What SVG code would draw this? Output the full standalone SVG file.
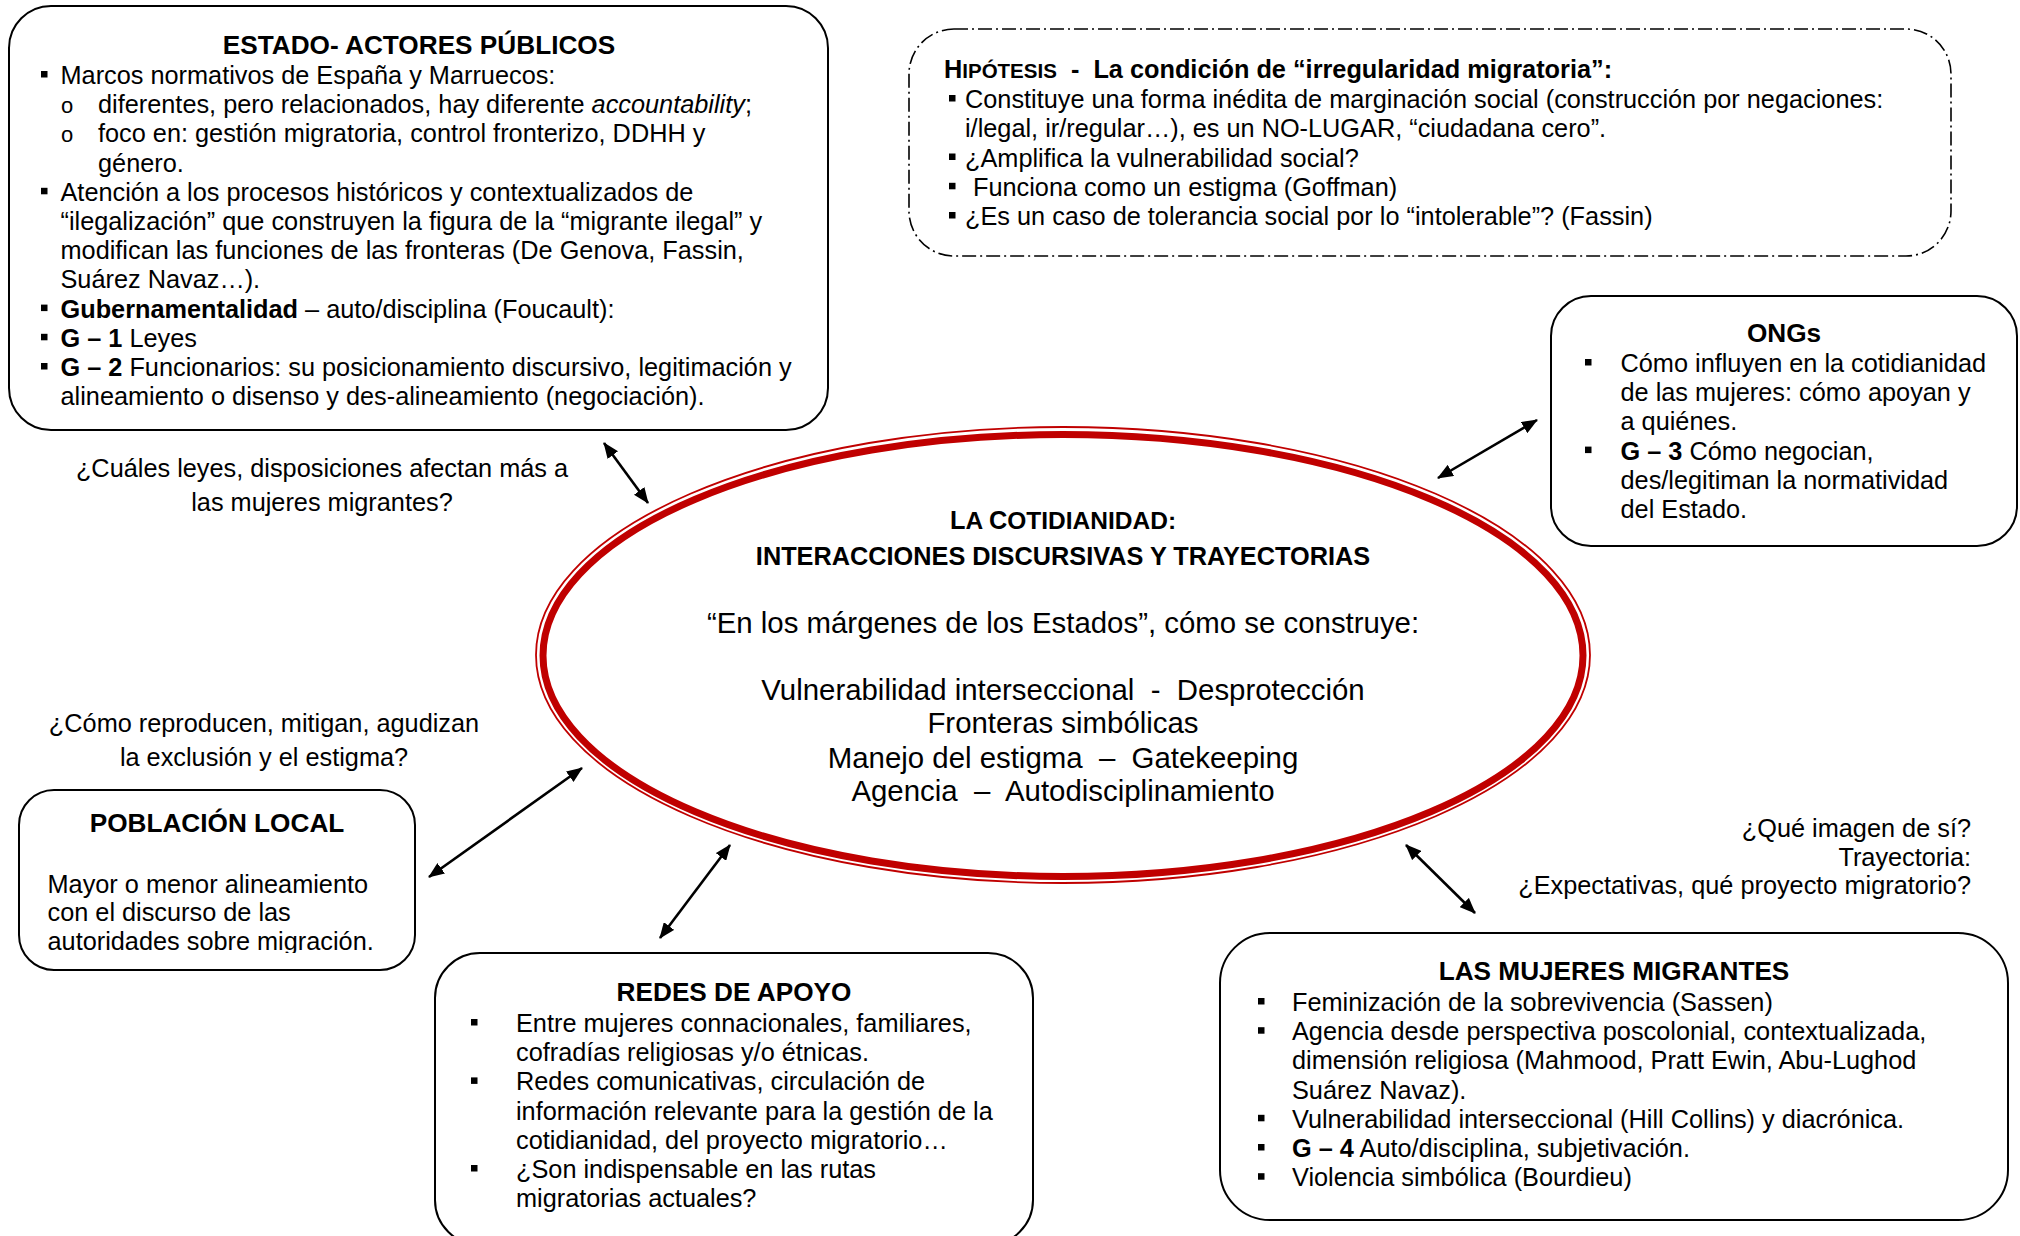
<svg xmlns="http://www.w3.org/2000/svg" xmlns:xlink="http://www.w3.org/1999/xlink" width="2020" height="1236" viewBox="0 0 2020 1236">
<style>
.t{font-family:"Liberation Sans",Arial,sans-serif;font-size:25.3px;fill:#000}
.h{font-weight:bold;font-size:26.2px}
.b{font-weight:bold}
.e{font-size:29.4px}
.box{fill:#fff;stroke:#000;stroke-width:2}
.hyp{fill:#fff;stroke:#000;stroke-width:1.6;stroke-dasharray:14 4 2 4}
.con{stroke:#000;stroke-width:2.6;fill:none;marker-start:url(#ah);marker-end:url(#ah)}
.sub{font-size:22px}
</style>
<defs>
<marker id="ah" viewBox="0 0 16 13" refX="15" refY="6.5" markerWidth="16" markerHeight="13" markerUnits="userSpaceOnUse" orient="auto-start-reverse"><path d="M0,0 L16,6.5 L0,13 z" fill="#000"/></marker>
<rect id="sq" width="6.5" height="6.5" fill="#000"/>
<clipPath id="pclip"><rect x="19" y="840" width="396" height="113"/></clipPath>
</defs>
<rect width="2020" height="1236" fill="#fff"/>

<g id="estado">
<rect class="box" x="9" y="6" width="819" height="424" rx="42"/>
<text class="t h" x="419" y="54" text-anchor="middle">ESTADO- ACTORES PÚBLICOS</text>
<use href="#sq" x="41" y="71"/>
<text class="t" x="60.5" y="84">Marcos normativos de España y Marruecos:</text>
<text class="t sub" x="61" y="113.2">o</text>
<text class="t" x="98" y="113.2">diferentes, pero relacionados, hay diferente <tspan font-style="italic">accountability</tspan>;</text>
<text class="t sub" x="61" y="142.4">o</text>
<text class="t" x="98" y="142.4">foco en: gestión migratoria, control fronterizo, DDHH y</text>
<text class="t" x="98" y="171.6">género.</text>
<use href="#sq" x="41" y="187.8"/>
<text class="t" x="60.5" y="200.8">Atención a los procesos históricos y contextualizados de</text>
<text class="t" x="60.5" y="230">“ilegalización” que construyen la figura de la “migrante ilegal” y</text>
<text class="t" x="60.5" y="259.2">modifican las funciones de las fronteras (De Genova, Fassin,</text>
<text class="t" x="60.5" y="288.4">Suárez Navaz…).</text>
<use href="#sq" x="41" y="304.6"/>
<text class="t" x="60.5" y="317.6"><tspan class="b">Gubernamentalidad</tspan> – auto/disciplina (Foucault):</text>
<use href="#sq" x="41" y="333.8"/>
<text class="t" x="60.5" y="346.8"><tspan class="b">G – 1</tspan> Leyes</text>
<use href="#sq" x="41" y="363"/>
<text class="t" x="60.5" y="376"><tspan class="b">G – 2</tspan> Funcionarios: su posicionamiento discursivo, legitimación y</text>
<text class="t" x="60.5" y="405.2">alineamiento o disenso y des-alineamiento (negociación).</text>
</g>

<g id="hipotesis">
<rect class="hyp" x="909" y="29" width="1042" height="227" rx="45"/>
<text class="t b" x="944" y="78" xml:space="preserve">H<tspan font-size="20.5px">IPÓTESIS</tspan>  -  La condición de “irregularidad migratoria”:</text>
<use href="#sq" x="949" y="95"/>
<text class="t" x="965" y="108">Constituye una forma inédita de marginación social (construcción por negaciones:</text>
<text class="t" x="965" y="137.3">i/legal, ir/regular…), es un NO-LUGAR, “ciudadana cero”.</text>
<use href="#sq" x="949" y="153.5"/>
<text class="t" x="965" y="166.5">¿Amplifica la vulnerabilidad social?</text>
<use href="#sq" x="949" y="182.8"/>
<text class="t" x="973" y="195.8">Funciona como un estigma (Goffman)</text>
<use href="#sq" x="949" y="212"/>
<text class="t" x="965" y="225">¿Es un caso de tolerancia social por lo “intolerable”? (Fassin)</text>
</g>

<g id="ongs">
<rect class="box" x="1551" y="296" width="466" height="250" rx="40"/>
<text class="t h" x="1784" y="342" text-anchor="middle">ONGs</text>
<use href="#sq" x="1585" y="359"/>
<text class="t" x="1620.5" y="372">Cómo influyen en la cotidianidad</text>
<text class="t" x="1620.5" y="401.2">de las mujeres: cómo apoyan y</text>
<text class="t" x="1620.5" y="430.4">a quiénes.</text>
<use href="#sq" x="1585" y="446.6"/>
<text class="t" x="1620.5" y="459.6"><tspan class="b">G – 3</tspan> Cómo negocian,</text>
<text class="t" x="1620.5" y="488.8">des/legitiman la normatividad</text>
<text class="t" x="1620.5" y="518">del Estado.</text>
</g>

<g id="cotidianidad">
<ellipse cx="1063" cy="655" rx="527" ry="228" fill="#fff" stroke="#C00000" stroke-width="1.8"/>
<ellipse cx="1063" cy="655.5" rx="520" ry="221" fill="none" stroke="#C00000" stroke-width="7"/>
<text class="t b" x="1063" y="529" text-anchor="middle" font-size="30.5px">L<tspan font-size="24.5px">A </tspan>C<tspan font-size="24.5px">OTIDIANIDAD:</tspan></text>
<text class="t b" x="1063" y="565" text-anchor="middle" font-size="23px">INTERACCIONES DISCURSIVAS Y TRAYECTORIAS</text>
<text class="t e" x="1063" y="633" text-anchor="middle">“En los márgenes de los Estados”, cómo se construye:</text>
<text class="t e" x="1063" y="699.5" text-anchor="middle" xml:space="preserve">Vulnerabilidad interseccional  -  Desprotección</text>
<text class="t e" x="1063" y="733" text-anchor="middle">Fronteras simbólicas</text>
<text class="t e" x="1063" y="767.5" text-anchor="middle" xml:space="preserve">Manejo del estigma  –  Gatekeeping</text>
<text class="t e" x="1063" y="800.5" text-anchor="middle" xml:space="preserve">Agencia  –  Autodisciplinamiento</text>
</g>

<g id="poblacion">
<rect class="box" x="19" y="790" width="396" height="180" rx="35"/>
<text class="t h" x="217" y="832" text-anchor="middle">POBLACIÓN LOCAL</text>
<g clip-path="url(#pclip)">
<text class="t" x="47.5" y="893">Mayor o menor alineamiento</text>
<text class="t" x="47.5" y="921">con el discurso de las</text>
<text class="t" x="47.5" y="950">autoridades sobre migración.</text>
</g>
</g>

<g id="redes">
<rect class="box" x="435" y="953" width="598" height="292" rx="45"/>
<text class="t h" x="734" y="1001" text-anchor="middle">REDES DE APOYO</text>
<use href="#sq" x="471" y="1019"/>
<text class="t" x="516" y="1032">Entre mujeres connacionales, familiares,</text>
<text class="t" x="516" y="1061.2">cofradías religiosas y/o étnicas.</text>
<use href="#sq" x="471" y="1077.4"/>
<text class="t" x="516" y="1090.4">Redes comunicativas, circulación de</text>
<text class="t" x="516" y="1119.6">información relevante para la gestión de la</text>
<text class="t" x="516" y="1148.8">cotidianidad, del proyecto migratorio…</text>
<use href="#sq" x="471" y="1165"/>
<text class="t" x="516" y="1178">¿Son indispensable en las rutas</text>
<text class="t" x="516" y="1207.2">migratorias actuales?</text>
</g>

<g id="mujeres">
<rect class="box" x="1220" y="933" width="788" height="287" rx="50"/>
<text class="t h" x="1614" y="980" text-anchor="middle">LAS MUJERES MIGRANTES</text>
<use href="#sq" x="1258" y="998"/>
<text class="t" x="1292" y="1011">Feminización de la sobrevivencia (Sassen)</text>
<use href="#sq" x="1258" y="1027.2"/>
<text class="t" x="1292" y="1040.2">Agencia desde perspectiva poscolonial, contextualizada,</text>
<text class="t" x="1292" y="1069.4">dimensión religiosa (Mahmood, Pratt Ewin, Abu-Lughod</text>
<text class="t" x="1292" y="1098.6">Suárez Navaz).</text>
<use href="#sq" x="1258" y="1114.8"/>
<text class="t" x="1292" y="1127.8">Vulnerabilidad interseccional (Hill Collins) y diacrónica.</text>
<use href="#sq" x="1258" y="1144"/>
<text class="t" x="1292" y="1157"><tspan class="b">G – 4</tspan> Auto/disciplina, subjetivación.</text>
<use href="#sq" x="1258" y="1173.2"/>
<text class="t" x="1292" y="1186.2">Violencia simbólica (Bourdieu)</text>
</g>

<g id="labels">
<text class="t" x="322" y="477" text-anchor="middle">¿Cuáles leyes, disposiciones afectan más a</text>
<text class="t" x="322" y="511" text-anchor="middle">las mujeres migrantes?</text>
<text class="t" x="264" y="732" text-anchor="middle">¿Cómo reproducen, mitigan, agudizan</text>
<text class="t" x="264" y="766" text-anchor="middle">la exclusión y el estigma?</text>
<text class="t" x="1971" y="837" text-anchor="end">¿Qué imagen de sí?</text>
<text class="t" x="1971" y="866" text-anchor="end">Trayectoria:</text>
<text class="t" x="1971" y="894" text-anchor="end">¿Expectativas, qué proyecto migratorio?</text>
</g>

<g id="connectors">
<line class="con" x1="604" y1="443" x2="648" y2="503"/>
<line class="con" x1="1438" y1="478" x2="1537" y2="420"/>
<line class="con" x1="429" y1="877" x2="582" y2="768"/>
<line class="con" x1="660" y1="938" x2="730" y2="845"/>
<line class="con" x1="1406" y1="845" x2="1475" y2="913"/>
</g>
</svg>
